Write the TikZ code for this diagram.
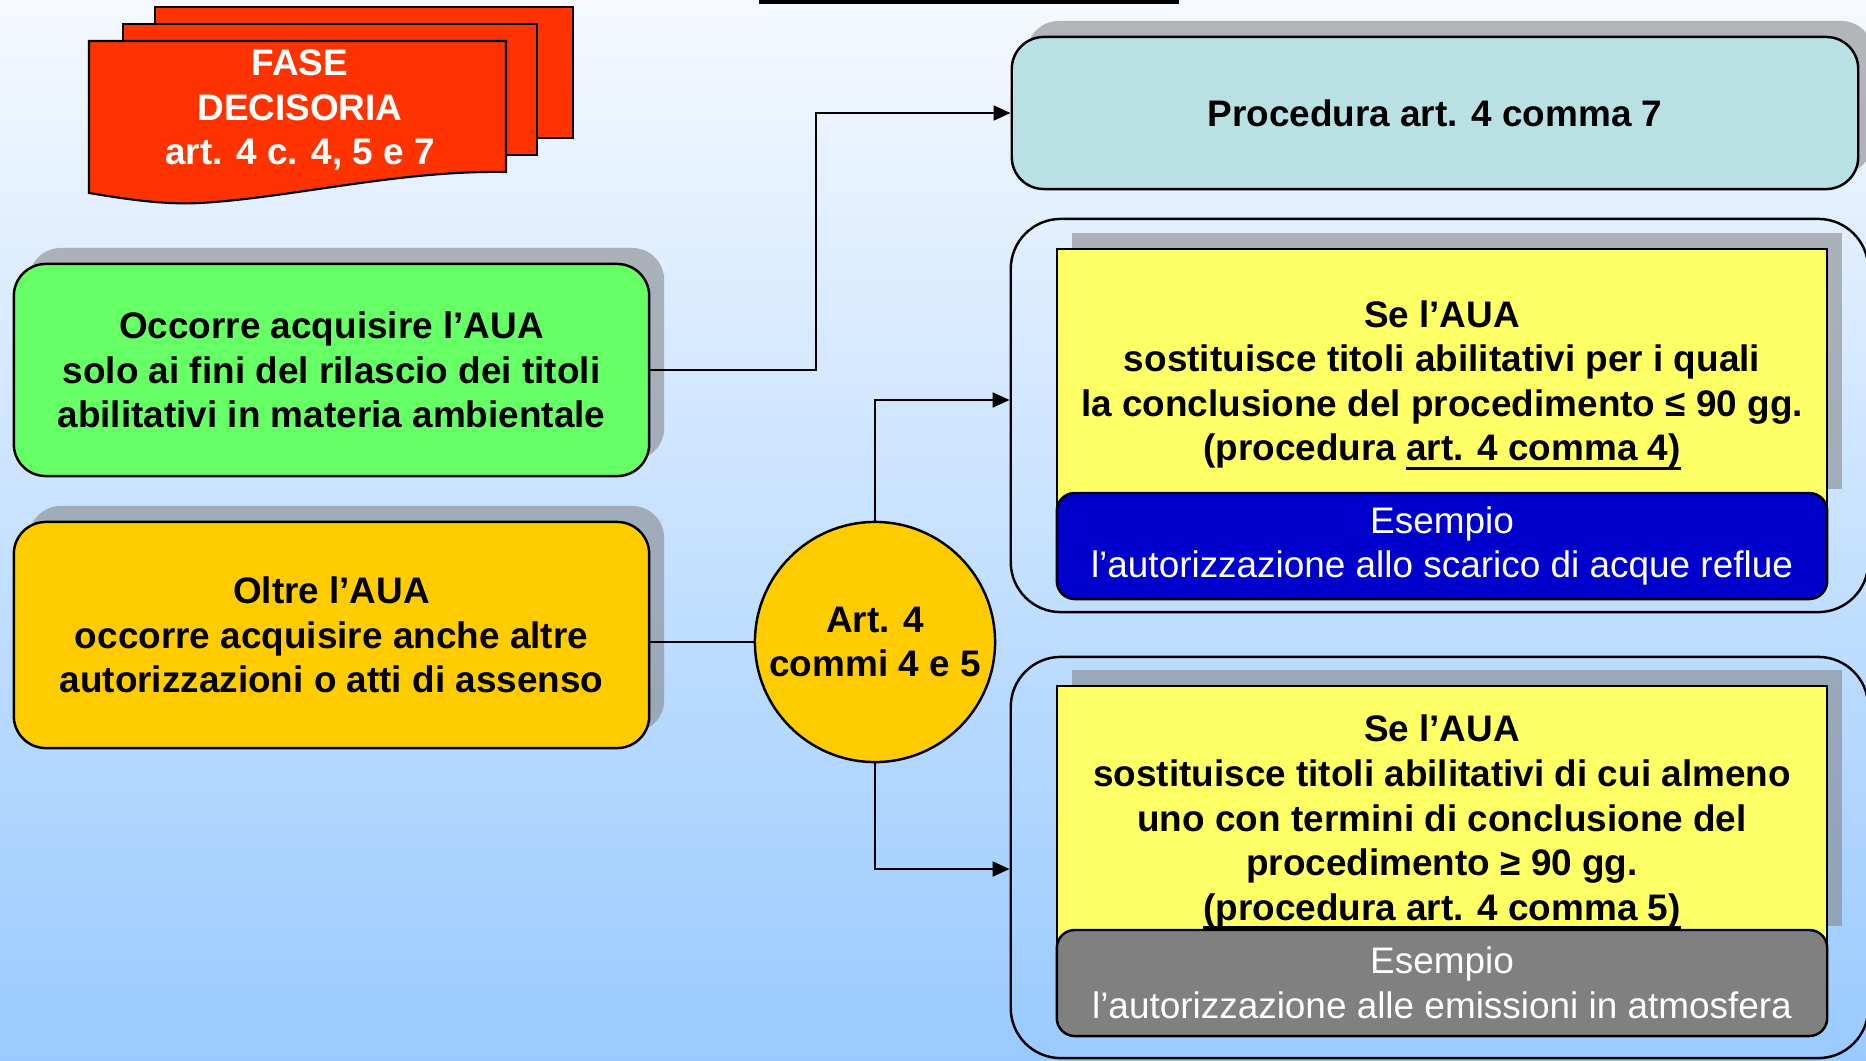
\documentclass[tikz,border=0pt]{standalone}
\usepackage{fontspec}
\setmainfont{Liberation Sans}
\usetikzlibrary{shadows,arrows.meta}
\pgfdeclarelayer{background layer}
\pgfsetlayers{background layer,main}
\newcommand{\sotto}[1]{\setbox0\hbox{#1}\rlap{\rule[-2.5pt]{\wd0}{0.75pt}}\box0}
\definecolor{rosso}{HTML}{FF3300}
\definecolor{verdino}{HTML}{66FF66}
\definecolor{arancio}{HTML}{FFCC00}
\definecolor{acqua}{HTML}{B9E0E3}
\definecolor{giallino}{HTML}{FFFF66}
\definecolor{blu}{HTML}{0000CC}
\definecolor{grigio}{HTML}{808080}
\definecolor{cielo}{HTML}{F5F9FF}
\definecolor{mare}{HTML}{99CAFF}
\tikzstyle{testo}=[font=\fontsize{10.5}{12.66}\selectfont\bfseries,align=center,inner sep=0pt]
\tikzstyle{ombra}=[general shadow={fill=gray,opacity=0.55,shadow xshift=0.15cm,shadow yshift=0.16cm}]
\tikzstyle{box}=[rectangle,rounded corners=0.32cm,draw=black,line width=0.7pt,testo,ombra]
\tikzstyle{verde}=[box,fill=verdino,minimum width=6.35cm,minimum height=2.12cm]
\tikzstyle{gialla}=[box,fill=arancio,minimum width=6.35cm,minimum height=2.26cm]
\tikzstyle{azzurra}=[box,fill=acqua,minimum width=8.46cm,minimum height=1.52cm]
\tikzstyle{cerchio}=[circle,draw=black,line width=0.7pt,fill=arancio,testo,minimum size=2.4cm]
\tikzstyle{cornice}=[rectangle,rounded corners=0.5cm,draw=black,line width=0.7pt,minimum width=8.57cm]
\tikzstyle{caso}=[rectangle,draw=black,line width=0.7pt,fill=giallino,testo,ombra,minimum width=7.7cm,minimum height=2.56cm]
\tikzstyle{scritta}=[testo,yshift=-0.08cm]
\tikzstyle{esempio}=[rectangle,rounded corners=0.18cm,draw=black,line width=0.7pt,text=white,align=center,inner sep=0pt,font=\fontsize{10.5}{12.66}\selectfont,minimum width=7.7cm,minimum height=1.06cm]
\tikzstyle{linea}=[line width=0.6pt]
\tikzstyle{freccia}=[line width=0.6pt,-{Triangle[length=0.17cm,width=0.15cm]}]

\begin{document}
\begin{tikzpicture}[x=0.01cm,y=-0.01cm]
		\useasboundingbox (0,0) rectangle (1866,1060);
		\begin{pgfonlayer}{background layer}
			\shade [top color=cielo,bottom color=mare] (0,0) rectangle (1866,1060);
		\end{pgfonlayer}
		\fill (759,0) rectangle (1179,4);
		
		\filldraw [fill=rosso,line width=0.6pt] (155,7) rectangle (573,138);
		\filldraw [fill=rosso,line width=0.6pt] (123,24) rectangle (537,155);
		\filldraw [fill=rosso,line width=0.6pt] (89,41)--(506,41)--(506,172) .. controls (400,170) and (290,198) .. (200,203) .. controls (160,205) and (120,198) .. (89,193)--cycle;
		\node (f) at (300,110) [testo,text=white] {FASE\\DECISORIA\\art. 4 c. 4, 5 e 7};
		
		\node (v) at (331.5,370) [verde] {Occorre acquisire l’AUA\\solo ai fini del rilascio dei titoli\\abilitativi in materia ambientale};
		\node (o) at (331.5,635) [gialla] {Oltre l’AUA\\occorre acquisire anche altre\\autorizzazioni o atti di assenso};
		\node (c) at (875,642) [cerchio] {Art. 4\\commi 4 e 5};
		\node (p) at (1435,113) [azzurra] {Procedura art. 4 comma 7};
		
		\node (r1) at (1439.5,415.5) [cornice,minimum height=3.93cm] {};
		\node (g1) at (1442,377) [caso,label={[scritta]center:{Se l’AUA\\sostituisce titoli abilitativi per i quali\\la conclusione del procedimento ≤ 90 gg.\\(procedura \sotto{art. 4 comma 4)}}}] {};
		\node (b1) at (1442,546) [esempio,fill=blu] {Esempio\\l’autorizzazione allo scarico di acque reflue};
		
		\node (r2) at (1439.5,857.5) [cornice,minimum height=4.01cm] {};
		\node (g2) at (1442,814) [caso,label={[scritta]center:{Se l’AUA\\sostituisce titoli abilitativi di cui almeno\\uno con termini di conclusione del\\procedimento ≥ 90 gg.\\\sotto{(procedura art. 4 comma 5)}}}] {};
		\node (b2) at (1442,983) [esempio,fill=grigio] {Esempio\\l’autorizzazione alle emissioni in atmosfera};
		
		\draw [freccia] (v.east)-- ++(166,0) |- (p.west);
		\draw [linea] (c.west)-- (c.west -| o.east);
		\draw [freccia] (c.north) |- ([yshift=0.155cm]r1.west);
		\draw [freccia] (c.south) |- ([yshift=-0.115cm]r2.west);
	\end{tikzpicture}
\end{document}
